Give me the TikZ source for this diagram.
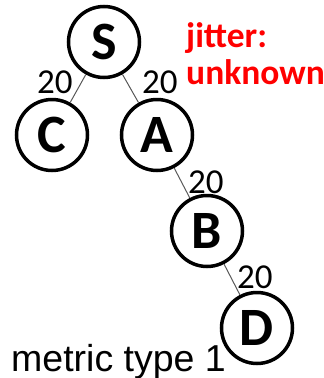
\documentclass[tikz,border=0pt]{standalone}
\usepackage{fontspec}
\setmainfont{Carlito}
\newfontfamily\arialfont{Liberation Sans}
\begin{document}
\begin{tikzpicture}[x=1pt,y=-1pt,
  vtx/.style={circle,draw=black,line width=3.5pt,minimum size=71pt,inner sep=0pt,font=\fontsize{54}{54}\selectfont\bfseries},
  edge/.style={draw=black!65,line width=1pt},
  wlabel/.style={anchor=base west,inner sep=0pt,font=\fontsize{35}{35}\selectfont},
  note/.style={anchor=base west,inner sep=0pt,text=red,font=\fontsize{35.5}{35.5}\selectfont\bfseries}]
\useasboundingbox (0,0) rectangle (324,378);
\node[vtx] (S) at (104,42) {S};
\node[vtx] (C) at (52,135) {C};
\node[vtx] (A) at (157,135) {A};
\node[vtx] (B) at (207,231) {B};
\node[vtx] (D) at (257,328) {D};
\draw[edge] (S) -- (C);
\draw[edge] (S) -- (A);
\draw[edge] (A) -- (B);
\draw[edge] (B) -- (D);
\node[wlabel] (l1) at (37,93) {20};
\node[wlabel] (l2) at (142,93) {20};
\node[wlabel] (l3) at (188,193) {20};
\node[wlabel] (l4) at (237,288) {20};
\node[note] (j1) at (186,47) {jitter:};
\node[note] (j2) at (186,84) {unknown};
\node[anchor=base west,inner sep=0pt,font=\arialfont\fontsize{37.5}{37.5}\selectfont] (m) at (11,371) {metric type 1};
\end{tikzpicture}
\end{document}
